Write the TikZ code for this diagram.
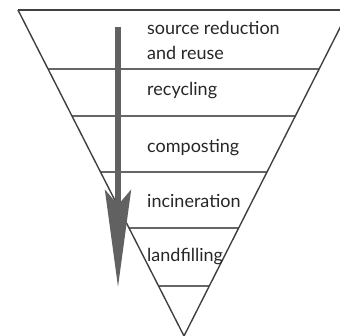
\documentclass[tikz,border=0pt]{standalone}
\usepackage{fontspec}
\setmainfont{Lato}
\usetikzlibrary{arrows.meta,calc}

\begin{document}
\begin{tikzpicture}[x=1pt,y=-1pt]
    \tikzset{rim/.style={draw=black!75,line width=1.4pt},
        band/.style={draw=black!60,line width=1.6pt},
        label/.style={anchor=base west,inner sep=0pt,text=black!85,
            font=\fontsize{18}{25}\selectfont,align=left},
        flow/.style={draw=black!62,line width=6pt,
            -{Stealth[length=97pt,width=26pt,inset=15pt]}}}
    \useasboundingbox (0,0) rectangle (340,336);
    \clip (0,0) rectangle (340,336);

    \coordinate (TL) at (18,10);
    \coordinate (TR) at (349,10);
    \coordinate (V) at (184,336);

    \foreach \f [count=\i] in {0.181,0.325,0.497,0.669,0.847} {
        \coordinate (L\i) at ($(TL)!\f!(V)$);
        \coordinate (R\i) at ($(TR)!\f!(V)$);
        \draw[band] (L\i) -- (R\i);
    }
    \draw[rim] (TL) -- (TR);
    \draw[rim] (TL) -- (V) -- (TR);

    \coordinate (S) at (118,27);
    \coordinate (E) at (118,287);
    \draw[flow] (S) -- (E);

    \node[label] (reduce) at (147,60) {source reduction\\and reuse};
    \node[label] (recycle) at (147,96) {recycling};
    \node[label] (compost) at (147,153) {composting};
    \node[label] (burn) at (147,208) {incineration};
    \node[label] (fill) at (147,262) {landfilling};
\end{tikzpicture}
\end{document}
